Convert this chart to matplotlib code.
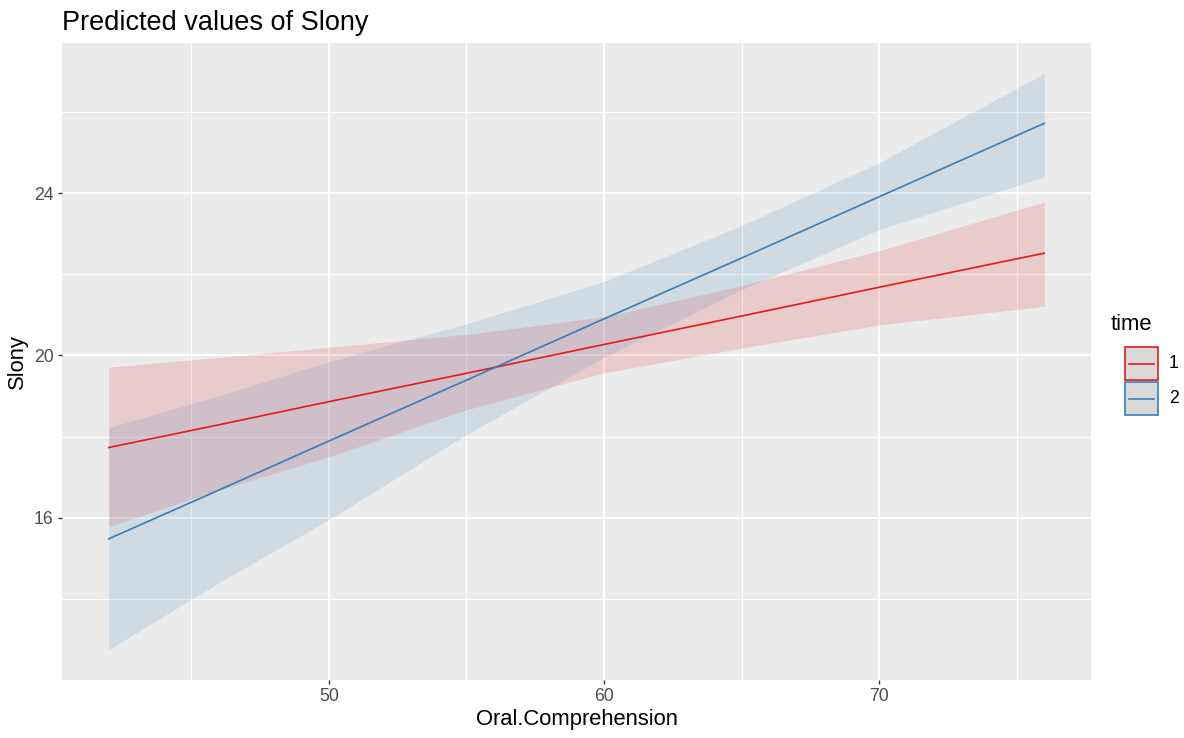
import matplotlib
matplotlib.use("Agg")
import matplotlib.pyplot as plt
from matplotlib.patches import Rectangle
from matplotlib.lines import Line2D

plt.rcParams['font.family'] = ['Liberation Sans', 'DejaVu Sans']

# values
oral = [42, 46, 50, 55, 60, 65, 70, 76]

time1_pred = [17.73, 18.29, 18.86, 19.56, 20.27, 20.97, 21.68, 22.52]
time1_low = [15.78, 16.68, 17.50, 18.66, 19.57, 20.18, 20.75, 21.21]
time1_high = [19.71, 19.95, 20.20, 20.52, 20.95, 21.72, 22.58, 23.78]

time2_pred = [15.48, 16.68, 17.89, 19.39, 20.90, 22.40, 23.91, 25.72]
time2_low = [12.75, 14.40, 15.95, 18.05, 19.95, 21.62, 23.10, 24.40]
time2_high = [18.22, 19.00, 19.85, 20.78, 21.82, 23.20, 24.75, 26.95]

groups = ["1", "2"]
colors = ["#E41A1C", "#377EB8"]

W, H = 1184, 738
fig = plt.figure(figsize=(W / 100, H / 100), dpi=100)
ax = fig.add_axes([62 / W, 58 / H, 1029 / W, 637 / H])
ax.set_facecolor("#EBEBEB")
for s in ax.spines.values():
    s.set_visible(False)

ax.set_xticks([50, 60, 70])
ax.set_xticks([45, 55, 65, 75], minor=True)
ax.set_yticks([16, 20, 24])
ax.set_yticks([14, 18, 22, 26], minor=True)
ax.grid(which="major", color="white", linewidth=1.5)
ax.grid(which="minor", color="white", linewidth=0.8)
ax.set_axisbelow(True)
ax.tick_params(which="major", length=3, width=1, color="#333333",
               labelcolor="#4D4D4D", labelsize=12.7, pad=3)
ax.tick_params(which="minor", length=0)

series = [(time1_pred, time1_low, time1_high), (time2_pred, time2_low, time2_high)]
for (pred, low, high), c in zip(series, colors):
    ax.fill_between(oral, low, high, color=c, alpha=0.15, linewidth=0)
    ax.plot(oral, pred, color=c, linewidth=1.2)

ax.set_xlim(40.3, 77.7)
ax.set_ylim(12.0, 27.7)

ax.set_xlabel("Oral.Comprehension", fontsize=15.8, labelpad=3)
ax.set_ylabel("Slony", fontsize=15.8, labelpad=4)
ax.set_title("Predicted values of Slony", fontsize=19.5, loc="left", pad=9)

# legend drawn by hand so the keys look like ggplot's boxes
fig.text(1111 / W, 1 - 325 / H, "time", fontsize=15.8, va="center", ha="left")
key_w, key_h = 33, 33
for i, (g, c) in enumerate(zip(groups, colors)):
    top = 347 + i * 35
    fig.add_artist(Rectangle((1125 / W, 1 - (top + key_h) / H), key_w / W, key_h / H,
                             transform=fig.transFigure, facecolor="#D9D9D9",
                             edgecolor=c, linewidth=1.2))
    yc = 1 - (top + key_h / 2) / H
    fig.add_artist(Line2D([1129 / W, 1154 / W], [yc, yc], transform=fig.transFigure,
                          color=c, linewidth=1.2))
    fig.text(1169 / W, yc, g, fontsize=12.7, va="center", ha="left")

fig.savefig("out.png", dpi=100)
